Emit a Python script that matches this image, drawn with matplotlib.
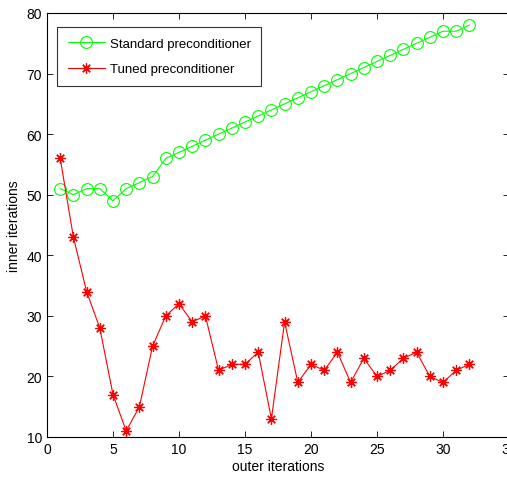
import matplotlib
matplotlib.use("Agg")
import matplotlib.pyplot as plt

plt.rcParams["font.family"] = ["Liberation Sans", "DejaVu Sans"]
plt.rcParams["font.size"] = 10

outer_iters = list(range(1, 33))
standard_inner = [51, 50, 51, 51, 49, 51, 52, 53, 56, 57, 58, 59, 60, 61, 62, 63,
                  64, 65, 66, 67, 68, 69, 70, 71, 72, 73, 74, 75, 76, 77, 77, 78]
tuned_inner = [56, 43, 34, 28, 17, 11, 15, 25, 30, 32, 29, 30, 21, 22, 22, 24,
               13, 29, 19, 22, 21, 24, 19, 23, 20, 21, 23, 24, 20, 19, 21, 22]
x_ticks = [0, 5, 10, 15, 20, 25, 30, 35]
y_ticks = [10, 20, 30, 40, 50, 60, 70, 80]

fig = plt.figure(figsize=(5.07, 4.81), dpi=100)
ax = fig.add_axes([47 / 507, 43 / 481, 462 / 507, 424 / 481])

ax.plot(outer_iters, standard_inner, color="#00ff00", linewidth=0.8, marker="o",
        markersize=8.5, markerfacecolor="none", markeredgewidth=0.8,
        label="Standard preconditioner")
ax.plot(outer_iters, tuned_inner, color="#ff0000", linewidth=0.8, marker=(8, 2, 0),
        markersize=7.5, markeredgewidth=0.9, label="Tuned preconditioner")

ax.set_xlim(0, 35)
ax.set_ylim(10, 80)
ax.set_xticks(x_ticks)
ax.set_yticks(y_ticks)
ax.tick_params(direction="in", top=True, right=True, length=4, width=0.6, labelsize=10)
for spine in ax.spines.values():
    spine.set_linewidth(0.8)

ax.set_xlabel("outer iterations", fontsize=10, labelpad=2)
ax.set_ylabel("inner iterations", fontsize=10, labelpad=4)

leg = ax.legend(loc="upper left", bbox_to_anchor=(0.022, 0.967), borderaxespad=0,
                frameon=True, fancybox=False, edgecolor="black", fontsize=9.5,
                handlelength=2.8, borderpad=0.8, labelspacing=1.0, handletextpad=0.4)
leg.get_frame().set_linewidth(0.8)

fig.savefig("out.png", dpi=100)
